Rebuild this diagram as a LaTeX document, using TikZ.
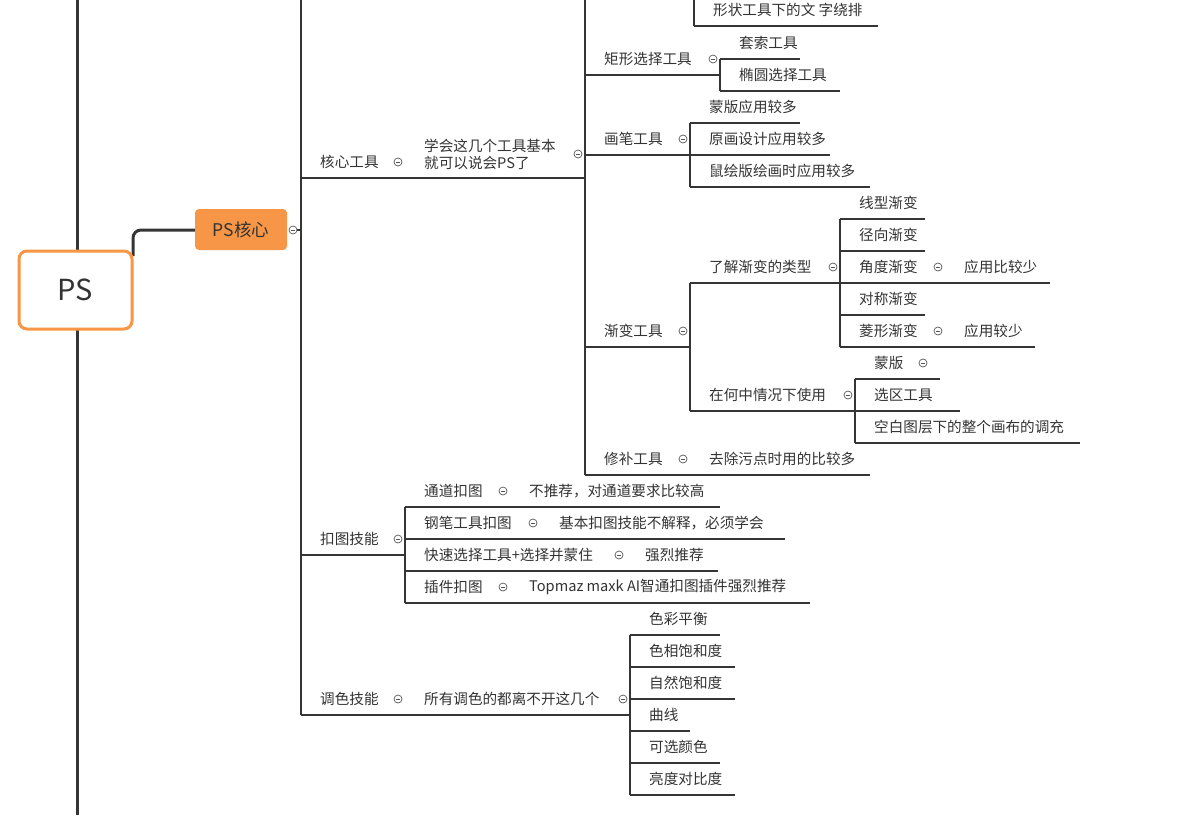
\documentclass[tikz,border=0pt]{standalone}
\usepackage{fontspec}
\setmainfont{Noto Sans CJK SC}
\definecolor{linec}{HTML}{353535}
\definecolor{textc}{HTML}{333333}
\definecolor{foldc}{HTML}{555555}
\definecolor{psorange}{HTML}{F79646}
\newcommand\lbl{\fontsize{14.6}{17}\selectfont}
% one underlined topic: name, start x, end x, underline y, text
\newcommand\leaf[5]{%
  \node[label] (#1) at (#2+19,#4-16) {#5};
  \draw[branch] (#2,#4) -- (#3,#4);}
\tikzset{
  branch/.style={draw=linec, line width=1.6pt},
  label/.style={anchor=west, inner sep=0pt, font=\lbl, text=textc},
  fold/.style={circle, draw=foldc, line width=0.7pt, minimum size=8pt, inner sep=0pt,
    path picture={\draw[foldc,line width=0.7pt]
      ([xshift=-2pt]path picture bounding box.center) -- ([xshift=2pt]path picture bounding box.center);}}
}
\begin{document}
\begin{tikzpicture}[x=1pt,y=-1pt]
\useasboundingbox (0,0) rectangle (1188,815);

% 主干
\draw[linec, line width=3pt] (77,0) -- (77,815);
\draw[linec, line width=3pt, rounded corners=8pt] (133,256) -- (133,230) -- (196,230);
\node[draw=psorange, line width=3pt, fill=white, rounded corners=8pt,
  minimum width=113pt, minimum height=78pt, font=\fontsize{29}{31}\selectfont, text=textc]
  (ps) at (75.5,290) {PS};
\node[fill=psorange, rounded corners=4pt, minimum width=92pt, minimum height=41pt,
  font=\fontsize{17.5}{19}\selectfont, text=textc] (core) at (241,229.5) {PS核心};
\node[fold] (fcore) at (293,230) {};
\draw[branch] (fcore) -- (301,230);
\draw[branch] (301,0) -- (301,715);

% 核心工具
\leaf{tools}{301}{585}{178}{核心工具}
\node[fold] at (398,162) {};
\node[label, align=left] (toolsnote) at (424,154) {学会这几个工具基本\\就可以说会PS了};
\node[fold] at (578,154) {};
\draw[branch] (585,0) -- (585,475);

\draw[branch] (694,0) -- (694,26);
\leaf{shape}{694}{878}{26}{形状工具下的文 字绕排}

\leaf{rect}{585}{720}{75}{矩形选择工具}
\node[fold] at (713,59) {};
\draw[branch] (720,59) -- (720,91);
\leaf{lasso}{720}{800}{59}{套索工具}
\leaf{ellipse}{720}{840}{91}{椭圆选择工具}

\leaf{brush}{585}{690}{155}{画笔工具}
\node[fold] at (683,139) {};
\draw[branch] (690,123) -- (690,187);
\leaf{mask}{690}{800}{123}{蒙版应用较多}
\leaf{paint}{690}{830}{155}{原画设计应用较多}
\leaf{mouse}{690}{870}{187}{鼠绘版绘画时应用较多}

\leaf{grad}{585}{690}{347}{渐变工具}
\node[fold] at (683,331) {};
\draw[branch] (690,283) -- (690,411);
\leaf{gtype}{690}{840}{283}{了解渐变的类型}
\node[fold] at (833,267) {};
\draw[branch] (840,219) -- (840,347);
\leaf{linear}{840}{925}{219}{线型渐变}
\leaf{radial}{840}{925}{251}{径向渐变}
\leaf{angle}{840}{950}{283}{角度渐变}
\node[fold] at (938,267) {};
\leaf{anglenote}{945}{1050}{283}{应用比较少}
\leaf{reflect}{840}{925}{315}{对称渐变}
\leaf{diamond}{840}{950}{347}{菱形渐变}
\node[fold] at (938,331) {};
\leaf{diamondnote}{945}{1035}{347}{应用较少}
\leaf{guse}{690}{855}{411}{在何中情况下使用}
\node[fold] at (848,395) {};
\draw[branch] (855,379) -- (855,443);
\leaf{gmask}{855}{940}{379}{蒙版}
\node[fold] at (923,363) {};
\leaf{gsel}{855}{960}{411}{选区工具}
\leaf{gfill}{855}{1080}{443}{空白图层下的整个画布的调充}

\leaf{patch}{585}{870}{475}{修补工具}
\node[fold] at (683,459) {};
\node[label] (patchnote) at (709,459) {去除污点时用的比较多};

% 扣图技能
\leaf{cut}{301}{405}{555}{扣图技能}
\node[fold] at (398,539) {};
\draw[branch] (405,507) -- (405,603);
\leaf{channel}{405}{720}{507}{通道扣图}
\node[fold] at (503,491) {};
\node[label] at (529,491) {不推荐，对通道要求比较高};
\leaf{pen}{405}{785}{539}{钢笔工具扣图}
\node[fold] at (533,523) {};
\node[label] at (559,523) {基本扣图技能不解释，必须学会};
\leaf{quick}{405}{718}{571}{快速选择工具+选择并蒙住}
\node[fold] at (619,555) {};
\node[label] at (645,555) {强烈推荐};
\leaf{plugin}{405}{810}{603}{插件扣图}
\node[fold] at (503,587) {};
\node[label] at (529,587) {Topmaz maxk AI智通扣图插件强烈推荐};

% 调色技能
\leaf{color}{301}{630}{715}{调色技能}
\node[fold] at (398,699) {};
\node[label] at (424,699) {所有调色的都离不开这几个};
\node[fold] at (623,699) {};
\draw[branch] (630,635) -- (630,795);
\leaf{balance}{630}{720}{635}{色彩平衡}
\leaf{hue}{630}{735}{667}{色相饱和度}
\leaf{vibrance}{630}{735}{699}{自然饱和度}
\leaf{curve}{630}{690}{731}{曲线}
\leaf{selcolor}{630}{720}{763}{可选颜色}
\leaf{bright}{630}{735}{795}{亮度对比度}
\end{tikzpicture}
\end{document}
